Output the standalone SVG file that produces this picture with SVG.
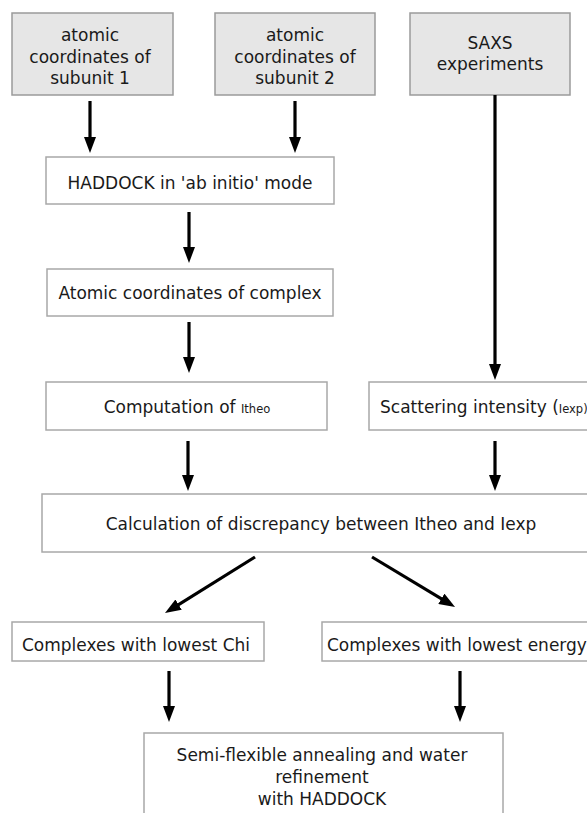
<svg xmlns="http://www.w3.org/2000/svg" width="587" height="813" viewBox="0 0 587 813">
<style>
text{font-family:"DejaVu Sans","Liberation Sans",sans-serif;font-size:17px;fill:#1a1a1a}
.gray{fill:#e6e6e6;stroke:#9a9a9a;stroke-width:1.5}
.white{fill:#fff;stroke:#a8a8a8;stroke-width:1.5}
.c{text-anchor:middle}
.sm{font-size:11.5px}
.conn line{stroke:#000;stroke-width:3.2;marker-end:url(#ah)}
</style>
<defs>
<marker id="ah" viewBox="0 0 16 12" refX="8" refY="6" markerWidth="16" markerHeight="12" markerUnits="userSpaceOnUse" orient="auto">
<path d="M0,0 L16,6 L0,12 z" fill="#000"/>
</marker>
</defs>
<rect width="587" height="813" fill="#fff"/>
<g id="sub1">
<rect class="gray" x="12" y="13" width="161" height="82"/>
<text class="c" x="90" y="41">atomic</text>
<text class="c" x="90" y="63">coordinates of</text>
<text class="c" x="90" y="84">subunit 1</text>
</g>
<g id="sub2">
<rect class="gray" x="215" y="13" width="160" height="82"/>
<text class="c" x="295" y="41">atomic</text>
<text class="c" x="295" y="63">coordinates of</text>
<text class="c" x="295" y="84">subunit 2</text>
</g>
<g id="saxs">
<rect class="gray" x="410" y="13" width="160" height="82"/>
<text class="c" x="490" y="49">SAXS</text>
<text class="c" x="490" y="70">experiments</text>
</g>
<g id="haddock">
<rect class="white" x="46" y="157" width="288" height="47"/>
<text class="c" x="190" y="189">HADDOCK in 'ab initio' mode</text>
</g>
<g id="complex">
<rect class="white" x="47" y="269" width="286" height="47"/>
<text class="c" x="190" y="299">Atomic coordinates of complex</text>
</g>
<g id="comp">
<rect class="white" x="46" y="382" width="281" height="48"/>
<text class="c" x="187" y="413">Computation of <tspan class="sm">Itheo</tspan></text>
</g>
<g id="scatter">
<rect class="white" x="369" y="382" width="240" height="48"/>
<text x="380" y="413">Scattering intensity (<tspan class="sm">Iexp)</tspan></text>
</g>
<g id="calc">
<rect class="white" x="42" y="494" width="570" height="58"/>
<text class="c" x="321" y="530">Calculation of discrepancy between Itheo and Iexp</text>
</g>
<g id="chi">
<rect class="white" x="12" y="622" width="252" height="39"/>
<text class="c" x="136" y="651">Complexes with lowest Chi</text>
</g>
<g id="energy">
<rect class="white" x="322" y="622" width="280" height="39"/>
<text x="327" y="651">Complexes with lowest energy</text>
</g>
<g id="semi">
<rect class="white" x="144" y="733" width="359" height="100"/>
<text class="c" x="322" y="761">Semi-flexible annealing and water</text>
<text class="c" x="322" y="783">refinement</text>
<text class="c" x="322" y="805">with HADDOCK</text>
</g>
<g class="conn" id="connectors">
<line x1="90" y1="101" x2="90" y2="145"/>
<line x1="295" y1="101" x2="295" y2="145"/>
<line x1="189" y1="212" x2="189" y2="255"/>
<line x1="189" y1="322" x2="189" y2="365"/>
<line x1="495" y1="95" x2="495" y2="372"/>
<line x1="188" y1="441" x2="188" y2="483"/>
<line x1="495" y1="441" x2="495" y2="483"/>
<line x1="255" y1="557" x2="171.8" y2="608.8"/>
<line x1="372" y1="557" x2="448.2" y2="602.9"/>
<line x1="169" y1="671" x2="169" y2="714"/>
<line x1="460" y1="671" x2="460" y2="714"/>
</g>
</svg>
